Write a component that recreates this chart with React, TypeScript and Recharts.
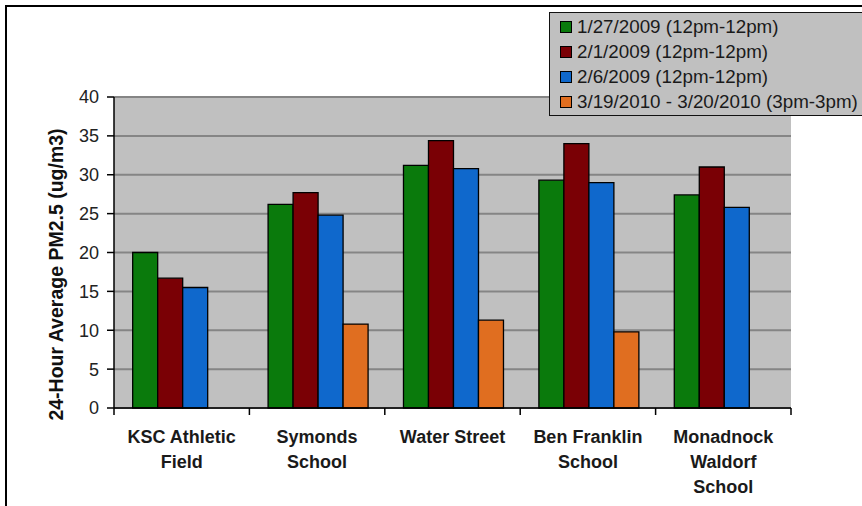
import { BarChart, Bar, XAxis, YAxis, CartesianGrid, Legend, Label } from 'recharts';

// Monitoring sites (line breaks mark the wrapped axis labels)
const sites = [
  'KSC Athletic\nField',
  'Symonds\nSchool',
  'Water Street',
  'Ben Franklin\nSchool',
  'Monadnock\nWaldorf\nSchool',
];

// 24-hour average PM2.5 (ug/m3) per sampling period
const jan27 = [20.0, 26.2, 31.2, 29.3, 27.4];
const feb1 = [16.7, 27.7, 34.4, 34.0, 31.0];
const feb6 = [15.5, 24.8, 30.8, 29.0, 25.8];
const mar19 = [null, 10.8, 11.3, 9.8, null];

const seriesNames = [
  '1/27/2009 (12pm-12pm)',
  '2/1/2009 (12pm-12pm)',
  '2/6/2009 (12pm-12pm)',
  '3/19/2010 - 3/20/2010 (3pm-3pm)',
];

const yTicks = [0, 5, 10, 15, 20, 25, 30, 35, 40];

const data = sites.map((site, i) => ({
  site,
  jan27: jan27[i],
  feb1: feb1[i],
  feb6: feb6[i],
  mar19: mar19[i],
}));

const FONT = '"Liberation Sans", Arial, sans-serif';
const W = 862;
const H = 506;
const Y_AXIS_W = 114;
const X_AXIS_H = 98;
const MARGIN = { top: 97, right: 71, bottom: 0, left: 0 };
const PLOT_W = W - MARGIN.left - MARGIN.right - Y_AXIS_W;
const BAND = PLOT_W / sites.length;

// Excel-style category axis: tick marks between categories, wrapped bold labels
function SiteTick(props: any) {
  const { x, y, payload, index } = props;
  const lines = String(payload.value).split('\n');
  const left = x - BAND / 2;
  return (
    <g>
      <line x1={left} x2={left} y1={y} y2={y + 7} stroke="#000" strokeWidth={1.5} />
      {index === sites.length - 1 && (
        <line x1={x + BAND / 2} x2={x + BAND / 2} y1={y} y2={y + 7} stroke="#000" strokeWidth={1.5} />
      )}
      <text
        x={x}
        y={y + 35}
        textAnchor="middle"
        fontFamily={FONT}
        fontSize={18}
        fontWeight="bold"
        fill="#1a1a1a"
      >
        {lines.map((line, i) => (
          <tspan key={i} x={x} dy={i === 0 ? 0 : 25}>
            {line}
          </tspan>
        ))}
      </text>
    </g>
  );
}

function LegendBox(props: any) {
  const { payload = [] } = props;
  return (
    <div
      style={{
        border: '1.5px solid #111',
        background: '#c0c0c0',
        padding: '1px 0 1px 10px',
        boxSizing: 'border-box',
        fontFamily: FONT,
        fontSize: 18.8,
        color: '#1a1a1a',
      }}
    >
      {payload.map((entry: any) => (
        <div
          key={entry.value}
          style={{ display: 'flex', alignItems: 'center', height: 25, whiteSpace: 'nowrap' }}
        >
          <span
            style={{
              width: 12,
              height: 12,
              boxSizing: 'border-box',
              border: '1px solid #000',
              background: entry.color,
              marginRight: 5,
              flexShrink: 0,
            }}
          />
          {entry.value}
        </div>
      ))}
    </div>
  );
}

export default function App() {
  return (
    <div style={{ position: 'relative', width: W, height: H, overflow: 'hidden', background: '#fff' }}>
      <style>{'body{margin:0}'}</style>
      {/* page frame */}
      <div
        style={{
          position: 'absolute',
          left: 5,
          top: 5,
          width: W,
          height: H,
          borderTop: '2px solid #000',
          borderLeft: '2px solid #000',
        }}
      />
      <BarChart
        width={W}
        height={H}
        data={data}
        margin={MARGIN}
        barCategoryGap="13.8%"
        barGap={0}
      >
        <CartesianGrid
          vertical={false}
          fill="#c0c0c0"
          fillOpacity={1}
          stroke="#858585"
          strokeWidth={2}
        />
        <XAxis
          dataKey="site"
          height={X_AXIS_H}
          interval={0}
          tickSize={0}
          tickMargin={0}
          tickLine={false}
          axisLine={{ stroke: '#000', strokeWidth: 1.5 }}
          tick={<SiteTick />}
        />
        <YAxis
          width={Y_AXIS_W}
          domain={[0, 40]}
          ticks={yTicks}
          interval={0}
          tickSize={7}
          tickMargin={8}
          axisLine={{ stroke: '#000', strokeWidth: 1.5 }}
          tickLine={{ stroke: '#000', strokeWidth: 1.5 }}
          tick={{ fontFamily: FONT, fontSize: 18, fill: '#222' }}
        >
          <Label
            content={({ viewBox }: any) => {
              const cx = viewBox.x + 56;
              const cy = viewBox.y + viewBox.height / 2 + 22;
              return (
                <text
                  x={cx}
                  y={cy}
                  transform={`rotate(-90, ${cx}, ${cy})`}
                  textAnchor="middle"
                  dominantBaseline="central"
                  fontFamily={FONT}
                  fontSize={19.5}
                  fontWeight="bold"
                  fill="#111"
                >
                  24-Hour Average PM2.5 (ug/m3)
                </text>
              );
            }}
          />
        </YAxis>
        {/* right-hand border of the plot area */}
        <YAxis
          yAxisId="frame"
          orientation="right"
          width={0}
          domain={[0, 40]}
          tick={false}
          tickLine={false}
          axisLine={{ stroke: '#000', strokeWidth: 1.5 }}
        />
        <Legend
          layout="horizontal"
          align="center"
          verticalAlign="middle"
          content={<LegendBox />}
          wrapperStyle={{ left: 549, top: 12, width: 330, height: 'auto' }}
        />
        <Bar dataKey="jan27" name={seriesNames[0]} fill="#0a7a0c" stroke="#000" strokeWidth={1.3} isAnimationActive={false} />
        <Bar dataKey="feb1" name={seriesNames[1]} fill="#7a0005" stroke="#000" strokeWidth={1.3} isAnimationActive={false} />
        <Bar dataKey="feb6" name={seriesNames[2]} fill="#0f68cc" stroke="#000" strokeWidth={1.3} isAnimationActive={false} />
        <Bar dataKey="mar19" name={seriesNames[3]} fill="#e06e20" stroke="#000" strokeWidth={1.3} isAnimationActive={false} />
      </BarChart>
    </div>
  );
}
